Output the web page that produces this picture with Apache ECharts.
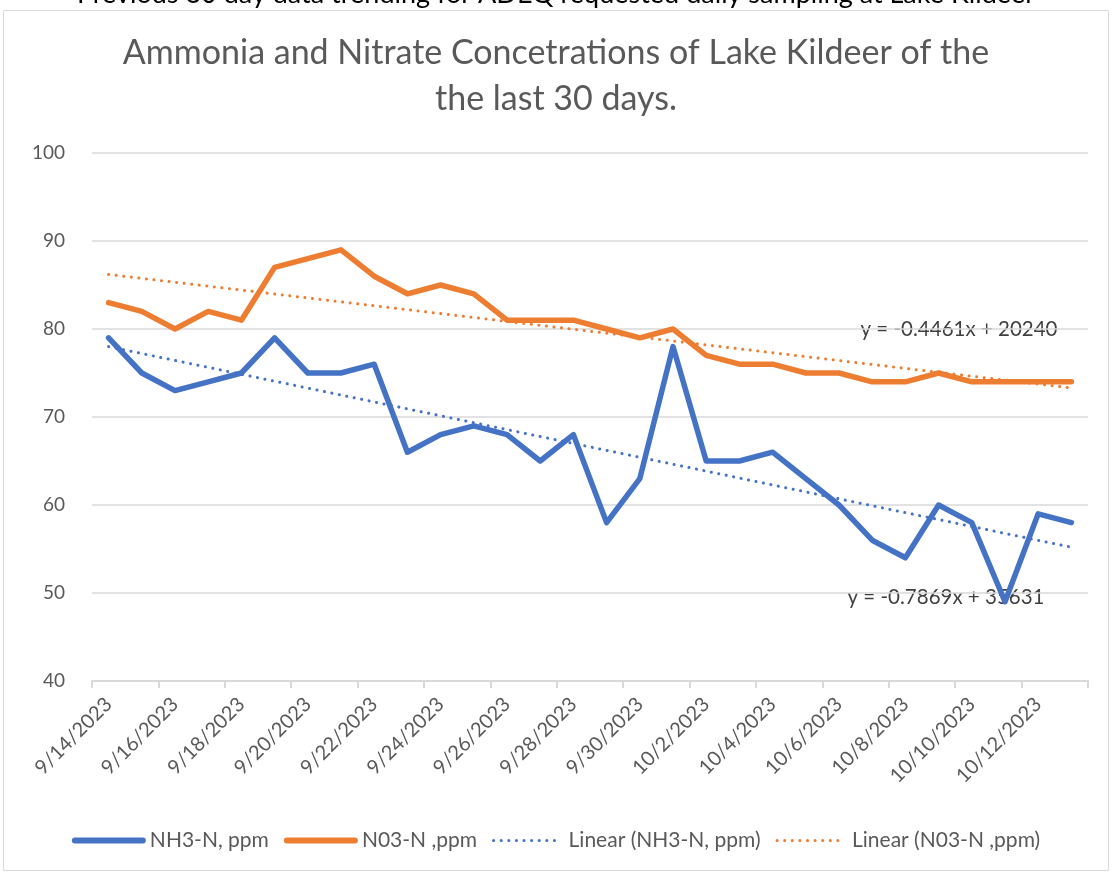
<!DOCTYPE html>
<html>
<head>
<meta charset="utf-8">
<script src="https://cdn.jsdelivr.net/npm/echarts@6/dist/echarts.min.js"></script>
<style>
  html, body { margin: 0; padding: 0; background: #fff; }
  #chart { width: 1112px; height: 873px; }
</style>
</head>
<body>
<div id="chart"></div>
<script>
// sampling days
const days = [
  '9/14/2023', '9/15/2023', '9/16/2023', '9/17/2023', '9/18/2023', '9/19/2023',
  '9/20/2023', '9/21/2023', '9/22/2023', '9/23/2023', '9/24/2023', '9/25/2023',
  '9/26/2023', '9/27/2023', '9/28/2023', '9/29/2023', '9/30/2023', '10/1/2023',
  '10/2/2023', '10/3/2023', '10/4/2023', '10/5/2023', '10/6/2023', '10/7/2023',
  '10/8/2023', '10/9/2023', '10/10/2023', '10/11/2023', '10/12/2023', '10/13/2023'
]

const nh3 = [79, 75, 73, 74, 75, 79, 75, 75, 76, 66, 68, 69, 68, 65, 68,
  58, 63, 78, 65, 65, 66, 63, 60, 56, 54, 60, 58, 49, 59, 58]

const no3 = [83, 82, 80, 82, 81, 87, 88, 89, 86, 84, 85, 84, 81, 81, 81,
  80, 79, 80, 77, 76, 76, 75, 75, 74, 74, 75, 74, 74, 74, 74]

// trendline ends (first day, last day)
const nh3Trend = [78.0, 55.2]
const no3Trend = [86.2, 73.3]

const nh3Eq = 'y = -0.7869x + 35631'
const no3Eq = 'y = -0.4461x + 20240'

const yTicks = [40, 50, 60, 70, 80, 90, 100]

const FONT = 'Lato, "Noto Sans", sans-serif'
const GREY = '#595959'

const chart = echarts.init(document.getElementById('chart'))

const last = days.length - 1

const option = {
  animation: false,
  textStyle: { fontFamily: FONT },
  graphic: [
    {
      type: 'rect',
      shape: { x: 3.5, y: 10.5, width: 1105, height: 860 },
      style: { fill: 'none', stroke: '#d9d9d9', lineWidth: 1 },
      z: -1
    },
    {
      type: 'text',
      left: 'center',
      top: -19,
      style: {
        text: 'Previous 30 day data trending for ADEQ requested daily sampling at Lake Kildeer',
        fill: '#000',
        font: '27px ' + FONT
      }
    },
    {
      type: 'text',
      x: 959,
      y: 329,
      style: {
        text: no3Eq, fill: '#404040', font: '20.5px ' + FONT,
        align: 'center', verticalAlign: 'middle'
      }
    },
    {
      type: 'text',
      x: 946,
      y: 597,
      style: {
        text: nh3Eq, fill: '#404040', font: '20.5px ' + FONT,
        align: 'center', verticalAlign: 'middle'
      }
    }
  ],
  title: {
    text: 'Ammonia and Nitrate Concetrations of Lake Kildeer of the\nthe last 30 days.',
    left: 'center',
    top: 25,
    textStyle: {
      color: GREY,
      fontSize: 34,
      fontWeight: 'normal',
      lineHeight: 46,
      fontFamily: FONT
    }
  },
  legend: {
    bottom: 17,
    left: 'center',
    itemWidth: 68,
    itemHeight: 12,
    itemGap: 15,
    itemStyle: { opacity: 0 },
    textStyle: { color: GREY, fontSize: 21, fontFamily: FONT, padding: [0, 0, 0, 2] },
    data: [
      { name: 'NH3-N, ppm', lineStyle: { width: 6 } },
      { name: 'N03-N ,ppm', lineStyle: { width: 6 } },
      { name: 'Linear (NH3-N, ppm)', lineStyle: { width: 3 } },
      { name: 'Linear (N03-N ,ppm)', lineStyle: { width: 3 } }
    ]
  },
  grid: {
    left: 92,
    right: 24,
    top: 153,
    bottom: 192,
    containLabel: false
  },
  xAxis: {
    type: 'category',
    data: days,
    boundaryGap: true,
    axisLine: { lineStyle: { color: '#d9d9d9', width: 2 } },
    axisTick: { show: true, interval: 1, length: 7, lineStyle: { color: '#d9d9d9', width: 2 } },
    axisLabel: {
      interval: 1,
      rotate: 45,
      margin: 20,
      padding: [12, 0, 0, 0],
      color: GREY,
      fontSize: 20,
      fontFamily: FONT
    },
    splitLine: { show: false }
  },
  yAxis: {
    type: 'value',
    min: yTicks[0],
    max: yTicks[yTicks.length - 1],
    interval: 10,
    axisLine: { show: false },
    axisTick: { show: false },
    axisLabel: { color: GREY, fontSize: 19, margin: 27, fontFamily: FONT },
    splitLine: { lineStyle: { color: '#d9d9d9', width: 1.5 } }
  },
  series: [
    {
      name: 'NH3-N, ppm',
      type: 'line',
      data: nh3,
      symbol: 'none',
      z: 3,
      lineStyle: { color: '#4472c4', width: 5.5, cap: 'round', join: 'round' },
      itemStyle: { color: '#4472c4' }
    },
    {
      name: 'N03-N ,ppm',
      type: 'line',
      data: no3,
      symbol: 'none',
      z: 3,
      lineStyle: { color: '#ed7d31', width: 5.5, cap: 'round', join: 'round' },
      itemStyle: { color: '#ed7d31' }
    },
    {
      name: 'Linear (NH3-N, ppm)',
      type: 'line',
      data: [[days[0], nh3Trend[0]], [days[last], nh3Trend[1]]],
      symbol: 'none',
      z: 4,
      lineStyle: { color: '#4472c4', width: 3, type: [0.1, 7.5], cap: 'round' },
      itemStyle: { color: '#4472c4' }
    },
    {
      name: 'Linear (N03-N ,ppm)',
      type: 'line',
      data: [[days[0], no3Trend[0]], [days[last], no3Trend[1]]],
      symbol: 'none',
      z: 4,
      lineStyle: { color: '#ed7d31', width: 3, type: [0.1, 7.5], cap: 'round' },
      itemStyle: { color: '#ed7d31' }
    }
  ]
}

chart.setOption(option)
</script>
</body>
</html>
